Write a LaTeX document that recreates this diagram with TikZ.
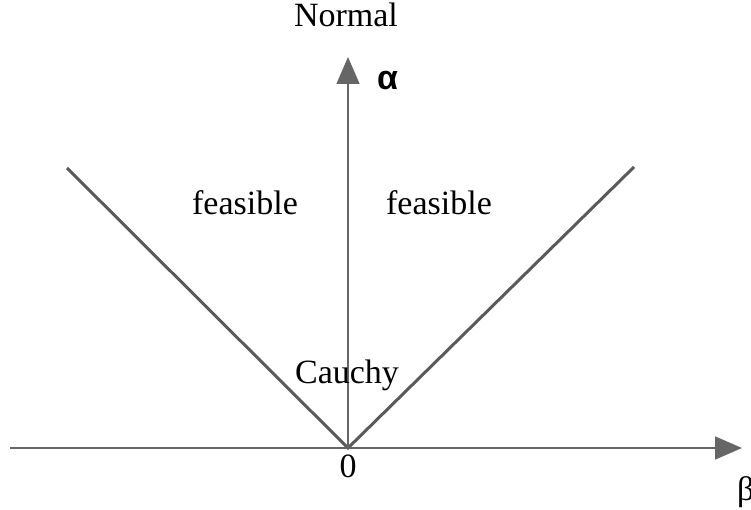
\documentclass[tikz,border=0pt]{standalone}
\usepackage{fontspec}
\setmainfont{Liberation Serif}
\newfontfamily\symfont{Liberation Sans}
\usetikzlibrary{arrows.meta}
\definecolor{axisgray}{HTML}{666666}
\definecolor{boundgray}{HTML}{5A5A5A}
\tikzset{
  axisline/.style={draw=axisgray, line width=1.5pt, -{Triangle[length=27pt,width=23pt]}},
  boundline/.style={draw=boundgray, line width=3pt},
  lbl/.style={font=\fontsize{34}{36}\selectfont, inner sep=0pt, anchor=base},
}
\begin{document}
\begin{tikzpicture}[x=1pt,y=-1pt]
\useasboundingbox (0,0) rectangle (751,510);
\coordinate (O) at (348,448);
\coordinate (xs) at (10,448);
\coordinate (xe) at (742,448);
\coordinate (ye) at (348,57);
\coordinate (L) at (67,168);
\coordinate (R) at (634,167);
\draw[boundline] (L) -- (O) -- (R);
\draw[axisline] (xs) -- (xe);
\draw[axisline] (O) -- (ye);
\node[lbl] (normal) at (346,27) {Normal};
\node[lbl, anchor=base west] (alpha) at (377,90) {\symfont\bfseries α};
\node[lbl] (feasL) at (245,215) {feasible};
\node[lbl] (feasR) at (439,215) {feasible};
\node[lbl] (cauchy) at (347,383) {Cauchy};
\node[lbl] (zero) at (348,477) {0};
\node[lbl, anchor=base west] (beta) at (737,500) {β};
\end{tikzpicture}
\end{document}
